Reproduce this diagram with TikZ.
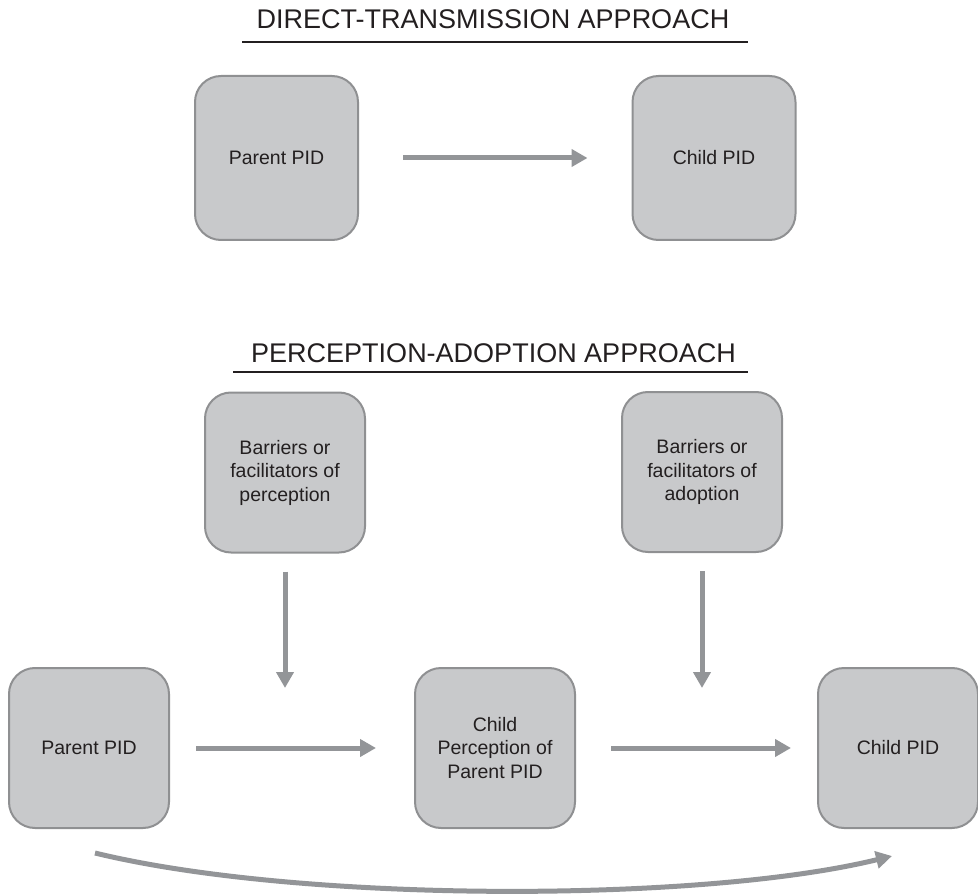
\documentclass[tikz,border=0pt]{standalone}
\usepackage{fontspec}
\setmainfont{Liberation Sans}
\usetikzlibrary{arrows.meta,calc}
\definecolor{boxfill}{HTML}{C8C9CB}
\definecolor{boxline}{HTML}{8F9092}
\definecolor{arrowgray}{HTML}{939598}
\definecolor{textcol}{HTML}{231F20}
\begin{document}
\begin{tikzpicture}[x=1pt,y=-1pt,
  box/.style={draw=boxline, line width=2pt, fill=boxfill, rounded corners=26pt,
    minimum width=160pt, minimum height=160pt, align=center,
    font=\fontsize{19.5}{23.5}\selectfont, text=textcol, inner sep=0pt},
  bigbox/.style={box, minimum width=163pt, minimum height=164pt},
  conn/.style={draw=arrowgray, line width=5pt, -{Triangle[length=16pt,width=17pt]}},
  titletext/.style={font=\fontsize{27}{30}\selectfont, text=textcol, anchor=base},
  rule/.style={draw=textcol, line width=2pt}
]
\useasboundingbox (0,0) rectangle (978,896);

% titles
\node[titletext] (t1) at (493,29) {DIRECT-TRANSMISSION APPROACH};
\draw[rule] (242,42) -- (748,42);
\node[titletext] (t2) at (493.5,362) {PERCEPTION-ADOPTION APPROACH};
\draw[rule] (233,372) -- (748,372);

% direct transmission
\node[bigbox] (pp1) at (276.5,158) {Parent PID};
\node[bigbox] (cp1) at (714,158) {Child PID};
\draw[conn] ([xshift=44pt]pp1.east) -- ([xshift=-44pt]cp1.west);

% perception-adoption
\node[box] (bperc) at (285,472.5) {Barriers or\\facilitators of\\perception};
\node[box] (badop) at (702,472) {Barriers or\\facilitators of\\adoption};
\node[box] (pp2) at (89,748) {Parent PID};
\node[box] (cpp) at (495,748) {Child\\Perception of\\Parent PID};
\node[box] (cp2) at (898,748) {Child PID};

\draw[conn] ([xshift=26pt]pp2.east) -- ([xshift=-38pt]cpp.west);
\draw[conn] ([xshift=35pt]cpp.east) -- ([xshift=-26pt]cp2.west);

\coordinate (percend) at (285,688);
\coordinate (adopend) at (702,688);
\draw[conn] ([yshift=-18pt]bperc.south) -- (percend);
\draw[conn] ([yshift=-18pt]badop.south) -- (adopend);

\coordinate (cstart) at ($(pp2.south)+(6,24)$);
\coordinate (cend) at ($(cp2.south)+(-6,27)$);
\draw[conn] (cstart) .. controls (300,903) and (700,903) .. (cend);
\end{tikzpicture}
\end{document}
